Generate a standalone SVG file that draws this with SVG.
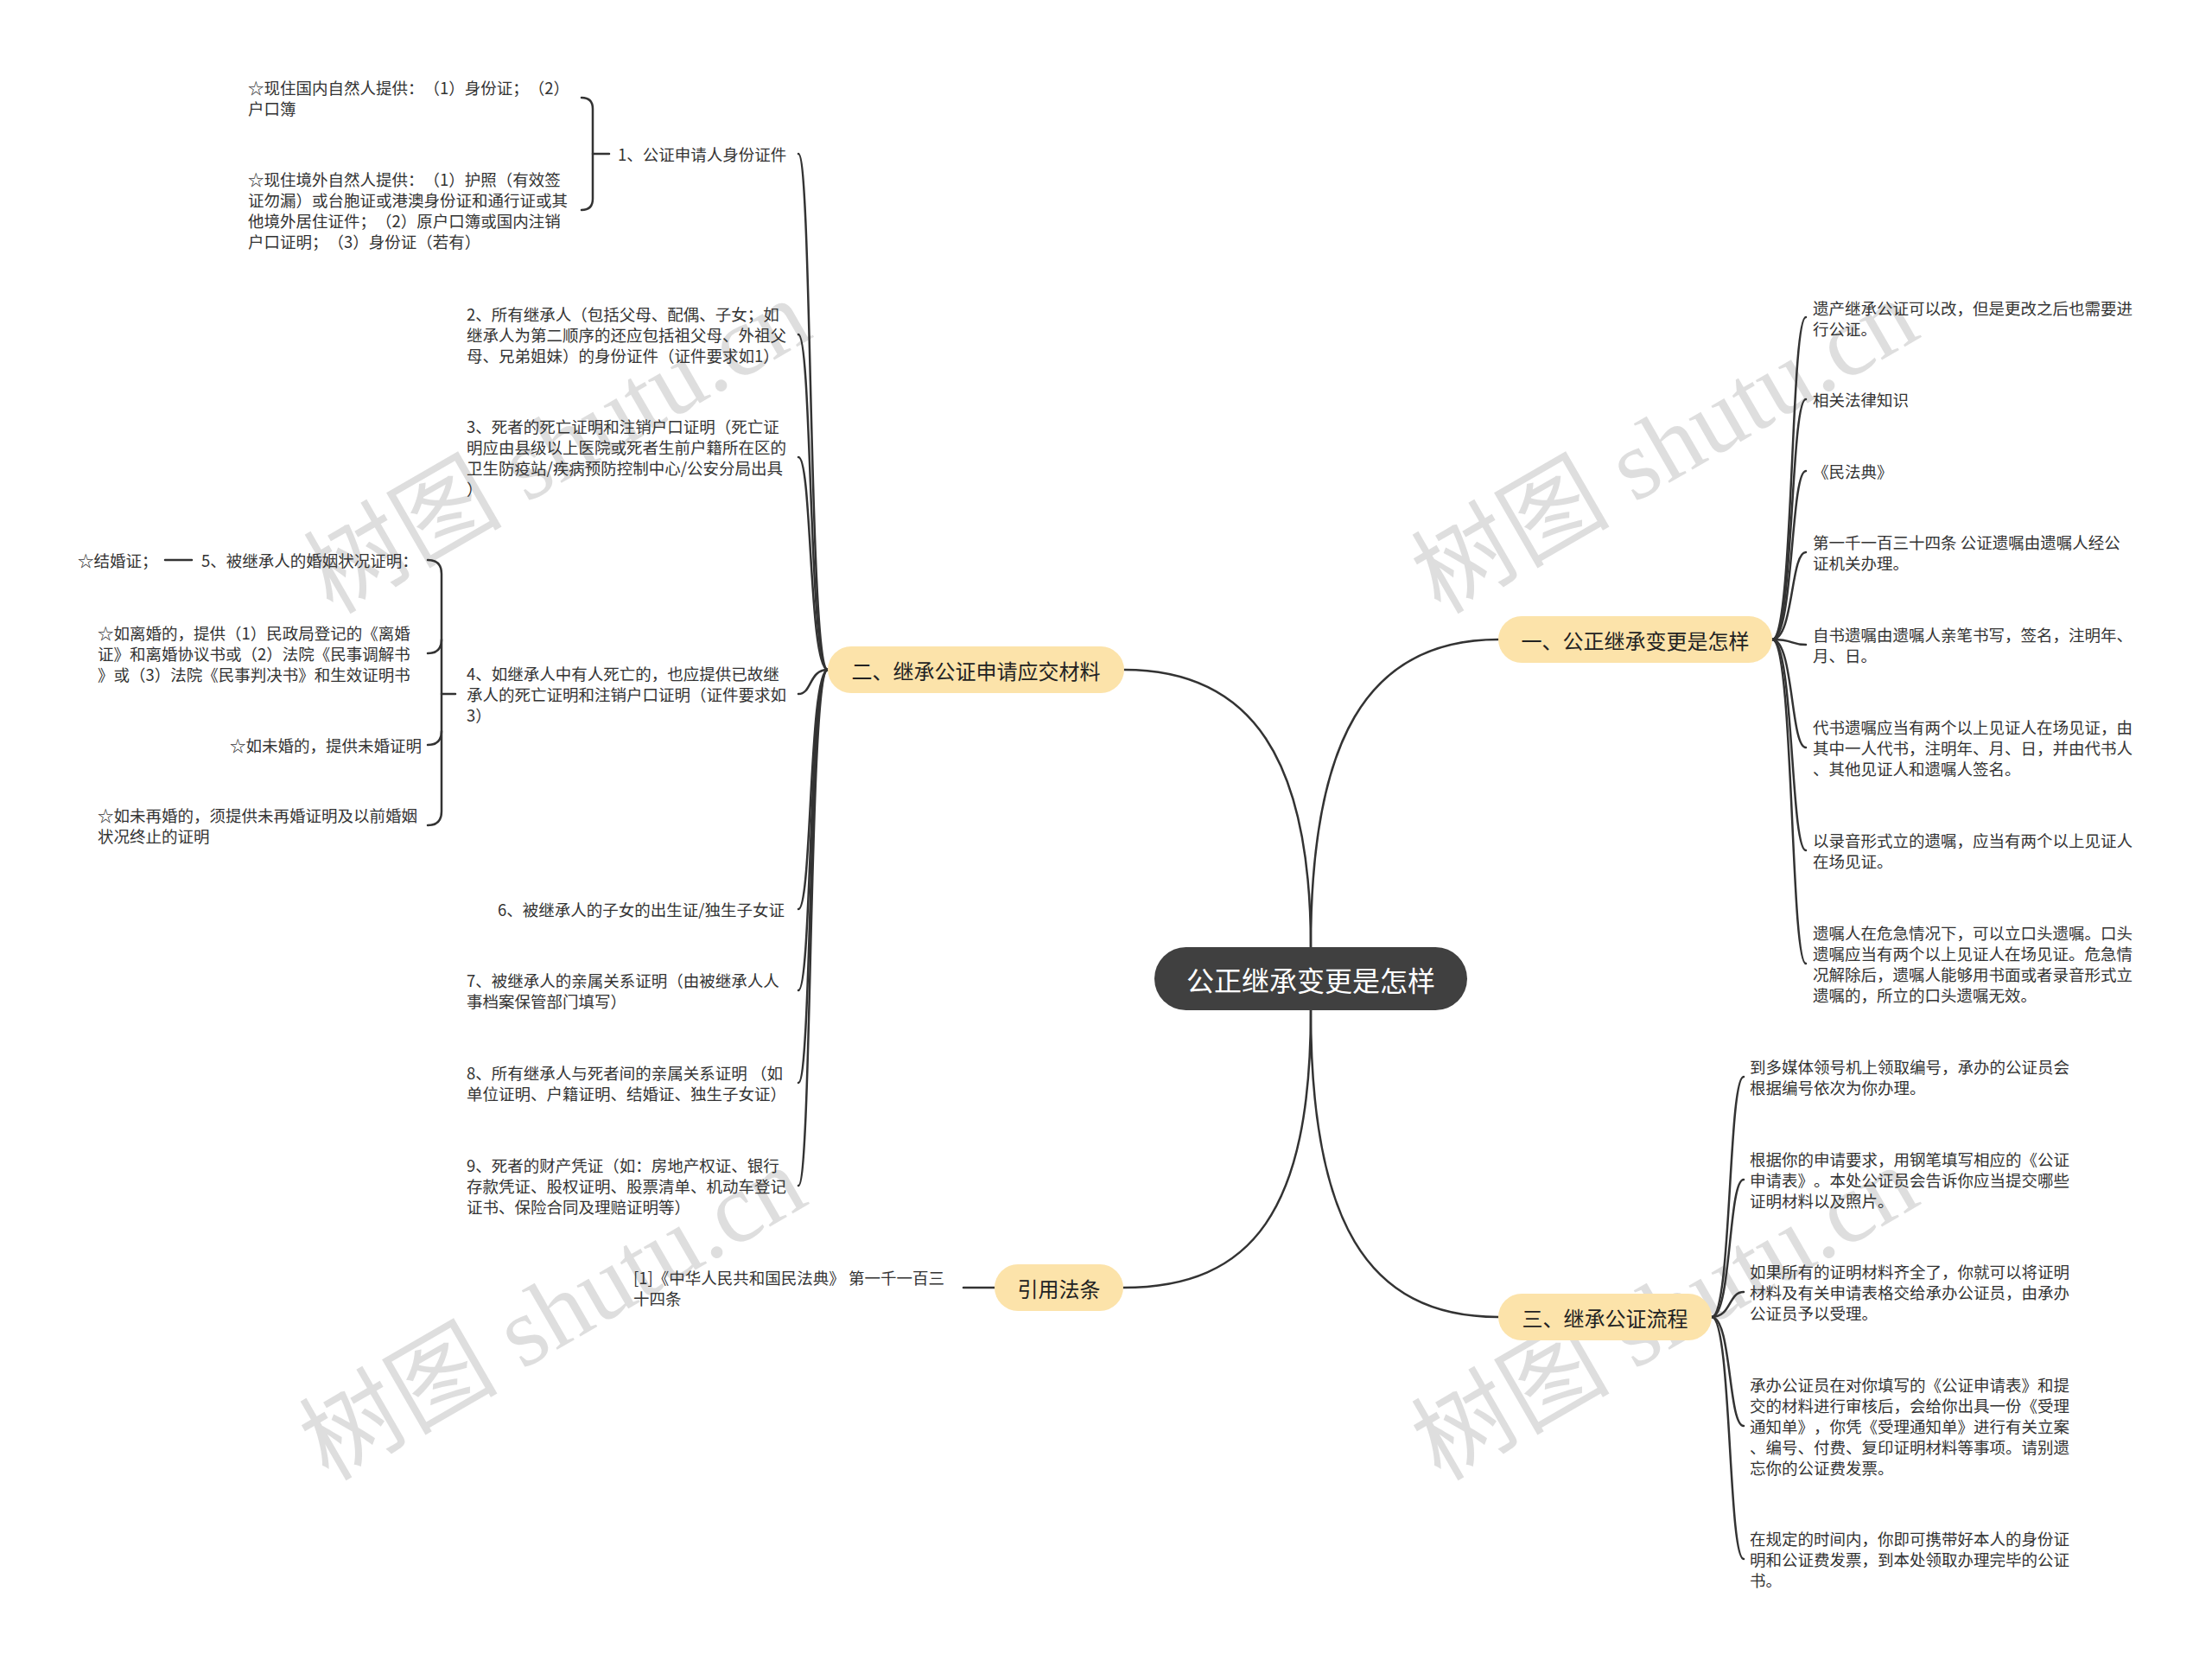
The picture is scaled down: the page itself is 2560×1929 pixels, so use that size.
<svg xmlns="http://www.w3.org/2000/svg" width="2560" height="1929" viewBox="0 0 2560 1929">
<style>
text { font-family: "Noto Sans CJK SC", "Liberation Sans", sans-serif; dominant-baseline: central; text-spacing-trim: space-all; }
.leaf { font-size: 18.5px; fill: #333333; }
.br rect { fill: #fce3aa; }
.br text { font-size: 24px; fill: #222222; text-anchor: middle; }
.root rect { fill: #404040; }
.root text { font-size: 32px; fill: #ffffff; text-anchor: middle; }
.conn path { fill: none; stroke: #333333; stroke-width: 2.5; stroke-linecap: round; }
.wm { font-family: "Liberation Serif", "Noto Sans CJK SC", serif; font-size: 115px; fill: #d4d4d4; text-anchor: middle; opacity: 0.75; }
</style>
<rect width="2560" height="1929" fill="#ffffff"/>
<g id="watermarks">
<text class="wm" transform="translate(645,517) rotate(-30)">树图 shutu.cn</text>
<text class="wm" transform="translate(1927,517) rotate(-30)">树图 shutu.cn</text>
<text class="wm" transform="translate(640,1520) rotate(-30)">树图 shutu.cn</text>
<text class="wm" transform="translate(1927,1520) rotate(-30)">树图 shutu.cn</text>
</g>
<g id="connectors" class="conn">
<path d="M1517,1096 C1517,860 1580,740 1734,740"/>
<path d="M1517,1096 C1517,880 1450,775 1301,775"/>
<path d="M1517,1169 C1517,1410 1580,1524 1734,1524"/>
<path d="M1517,1169 C1517,1400 1450,1490 1300,1490"/>
<path d="M958,775 C936,775 940,178 924,178"/>
<path d="M958,775 C936,775 940,387 924,387"/>
<path d="M958,775 C936,775 940,529 924,529"/>
<path d="M958,775 C936,775 940,803 924,803"/>
<path d="M958,775 C936,775 940,1052 924,1052"/>
<path d="M958,775 C936,775 940,1146 924,1146"/>
<path d="M958,775 C936,775 940,1253 924,1253"/>
<path d="M958,775 C936,775 940,1372 924,1372"/>
<path d="M686,178 L705,178"/>
<path d="M673,113 Q686,113 686,126 L686,230 Q686,243 673,243"/>
<path d="M511,803 L527,803"/>
<path d="M495,648 Q511,648 511,664 L511,939 Q511,955 495,955"/>
<path d="M511,740 Q511,756 495,756"/>
<path d="M511,846 Q511,862 495,862"/>
<path d="M191,648 L222,648"/>
<path d="M1151,1490 L1115,1490"/>
<path d="M2051,740 C2076,740 2072,367 2090,367"/>
<path d="M2051,740 C2076,740 2072,462 2090,462"/>
<path d="M2051,740 C2076,740 2072,545 2090,545"/>
<path d="M2051,740 C2076,740 2072,639 2090,639"/>
<path d="M2051,740 C2076,740 2072,746 2090,746"/>
<path d="M2051,740 C2076,740 2072,865 2090,865"/>
<path d="M2051,740 C2076,740 2072,984 2090,984"/>
<path d="M2051,740 C2076,740 2072,1115 2090,1115"/>
<path d="M1981,1524 C2004,1524 2000,1246 2018,1246"/>
<path d="M1981,1524 C2004,1524 2000,1365 2018,1365"/>
<path d="M1981,1524 C2004,1524 2000,1495 2018,1495"/>
<path d="M1981,1524 C2004,1524 2000,1650 2018,1650"/>
<path d="M1981,1524 C2004,1524 2000,1804 2018,1804"/>
</g>
<g id="root" class="root">
<rect x="1336" y="1096" width="362" height="73" rx="36.5"/>
<text x="1517" y="1132.5">公正继承变更是怎样</text>
</g>
<g id="b1" class="br">
<rect x="1734" y="713" width="317" height="54" rx="27"/>
<text x="1892.5" y="740">一、公正继承变更是怎样</text>
</g>
<g id="b2" class="br">
<rect x="958" y="748" width="343" height="54" rx="27"/>
<text x="1129.5" y="775">二、继承公证申请应交材料</text>
</g>
<g id="b3" class="br">
<rect x="1734" y="1497" width="247" height="54" rx="27"/>
<text x="1857.5" y="1524">三、继承公证流程</text>
</g>
<g id="b4" class="br">
<rect x="1151" y="1463" width="149" height="54" rx="27"/>
<text x="1225.5" y="1490">引用法条</text>
</g>
<g id="n2-1"><text class="leaf" x="715" y="178">1、公证申请人身份证件</text></g>
<g id="n2-1a"><text class="leaf"><tspan x="287" y="101">☆现住国内自然人提供：（1）身份证；（2）</tspan><tspan x="287" y="125">户口簿</tspan></text></g>
<g id="n2-1b"><text class="leaf"><tspan x="287" y="207">☆现住境外自然人提供：（1）护照（有效签</tspan><tspan x="287" y="231">证勿漏）或台胞证或港澳身份证和通行证或其</tspan><tspan x="287" y="255">他境外居住证件；（2）原户口簿或国内注销</tspan><tspan x="287" y="279">户口证明；（3）身份证（若有）</tspan></text></g>
<g id="n2-2"><text class="leaf"><tspan x="540" y="363">2、所有继承人（包括父母、配偶、子女；如</tspan><tspan x="540" y="387">继承人为第二顺序的还应包括祖父母、外祖父</tspan><tspan x="540" y="411">母、兄弟姐妹）的身份证件（证件要求如1）</tspan></text></g>
<g id="n2-3"><text class="leaf"><tspan x="540" y="493">3、死者的死亡证明和注销户口证明（死亡证</tspan><tspan x="540" y="517">明应由县级以上医院或死者生前户籍所在区的</tspan><tspan x="540" y="541">卫生防疫站/疾病预防控制中心/公安分局出具</tspan><tspan x="540" y="565">）</tspan></text></g>
<g id="n2-4"><text class="leaf"><tspan x="540" y="779">4、如继承人中有人死亡的，也应提供已故继</tspan><tspan x="540" y="803">承人的死亡证明和注销户口证明（证件要求如</tspan><tspan x="540" y="827">3）</tspan></text></g>
<g id="n2-4a"><text class="leaf" x="233" y="648">5、被继承人的婚姻状况证明：</text></g>
<g id="n2-4a1"><text class="leaf" x="90" y="648">☆结婚证；</text></g>
<g id="n2-4b"><text class="leaf"><tspan x="113" y="732">☆如离婚的，提供（1）民政局登记的《离婚</tspan><tspan x="113" y="756">证》和离婚协议书或（2）法院《民事调解书</tspan><tspan x="113" y="780">》或（3）法院《民事判决书》和生效证明书</tspan></text></g>
<g id="n2-4c"><text class="leaf" x="266" y="862">☆如未婚的，提供未婚证明</text></g>
<g id="n2-4d"><text class="leaf"><tspan x="113" y="943">☆如未再婚的，须提供未再婚证明及以前婚姻</tspan><tspan x="113" y="967">状况终止的证明</tspan></text></g>
<g id="n2-6"><text class="leaf" x="576" y="1052">6、被继承人的子女的出生证/独生子女证</text></g>
<g id="n2-7"><text class="leaf"><tspan x="540" y="1134">7、被继承人的亲属关系证明（由被继承人人</tspan><tspan x="540" y="1158">事档案保管部门填写）</tspan></text></g>
<g id="n2-8"><text class="leaf"><tspan x="540" y="1241">8、所有继承人与死者间的亲属关系证明 （如</tspan><tspan x="540" y="1265">单位证明、户籍证明、结婚证、独生子女证）</tspan></text></g>
<g id="n2-9"><text class="leaf"><tspan x="540" y="1348">9、死者的财产凭证（如：房地产权证、银行</tspan><tspan x="540" y="1372">存款凭证、股权证明、股票清单、机动车登记</tspan><tspan x="540" y="1396">证书、保险合同及理赔证明等）</tspan></text></g>
<g id="n4-1"><text class="leaf"><tspan x="733" y="1478">[1]《中华人民共和国民法典》 第一千一百三</tspan><tspan x="733" y="1502">十四条</tspan></text></g>
<g id="n1-1"><text class="leaf"><tspan x="2098" y="356">遗产继承公证可以改，但是更改之后也需要进</tspan><tspan x="2098" y="380">行公证。</tspan></text></g>
<g id="n1-2"><text class="leaf" x="2098" y="462">相关法律知识</text></g>
<g id="n1-3"><text class="leaf" x="2098" y="545">《民法典》</text></g>
<g id="n1-4"><text class="leaf"><tspan x="2098" y="627">第一千一百三十四条 公证遗嘱由遗嘱人经公</tspan><tspan x="2098" y="651">证机关办理。</tspan></text></g>
<g id="n1-5"><text class="leaf"><tspan x="2098" y="734">自书遗嘱由遗嘱人亲笔书写，签名，注明年、</tspan><tspan x="2098" y="758">月、日。</tspan></text></g>
<g id="n1-6"><text class="leaf"><tspan x="2098" y="841">代书遗嘱应当有两个以上见证人在场见证，由</tspan><tspan x="2098" y="865">其中一人代书，注明年、月、日，并由代书人</tspan><tspan x="2098" y="889">、其他见证人和遗嘱人签名。</tspan></text></g>
<g id="n1-7"><text class="leaf"><tspan x="2098" y="972">以录音形式立的遗嘱，应当有两个以上见证人</tspan><tspan x="2098" y="996">在场见证。</tspan></text></g>
<g id="n1-8"><text class="leaf"><tspan x="2098" y="1079">遗嘱人在危急情况下，可以立口头遗嘱。口头</tspan><tspan x="2098" y="1103">遗嘱应当有两个以上见证人在场见证。危急情</tspan><tspan x="2098" y="1127">况解除后，遗嘱人能够用书面或者录音形式立</tspan><tspan x="2098" y="1151">遗嘱的，所立的口头遗嘱无效。</tspan></text></g>
<g id="n3-1"><text class="leaf"><tspan x="2025" y="1234">到多媒体领号机上领取编号，承办的公证员会</tspan><tspan x="2025" y="1258">根据编号依次为你办理。</tspan></text></g>
<g id="n3-2"><text class="leaf"><tspan x="2025" y="1341">根据你的申请要求，用钢笔填写相应的《公证</tspan><tspan x="2025" y="1365">申请表》。本处公证员会告诉你应当提交哪些</tspan><tspan x="2025" y="1389">证明材料以及照片。</tspan></text></g>
<g id="n3-3"><text class="leaf"><tspan x="2025" y="1471">如果所有的证明材料齐全了，你就可以将证明</tspan><tspan x="2025" y="1495">材料及有关申请表格交给承办公证员，由承办</tspan><tspan x="2025" y="1519">公证员予以受理。</tspan></text></g>
<g id="n3-4"><text class="leaf"><tspan x="2025" y="1602">承办公证员在对你填写的《公证申请表》和提</tspan><tspan x="2025" y="1626">交的材料进行审核后，会给你出具一份《受理</tspan><tspan x="2025" y="1650">通知单》，你凭《受理通知单》进行有关立案</tspan><tspan x="2025" y="1674">、编号、付费、复印证明材料等事项。请别遗</tspan><tspan x="2025" y="1698">忘你的公证费发票。</tspan></text></g>
<g id="n3-5"><text class="leaf"><tspan x="2025" y="1780">在规定的时间内，你即可携带好本人的身份证</tspan><tspan x="2025" y="1804">明和公证费发票，到本处领取办理完毕的公证</tspan><tspan x="2025" y="1828">书。</tspan></text></g>
</svg>
